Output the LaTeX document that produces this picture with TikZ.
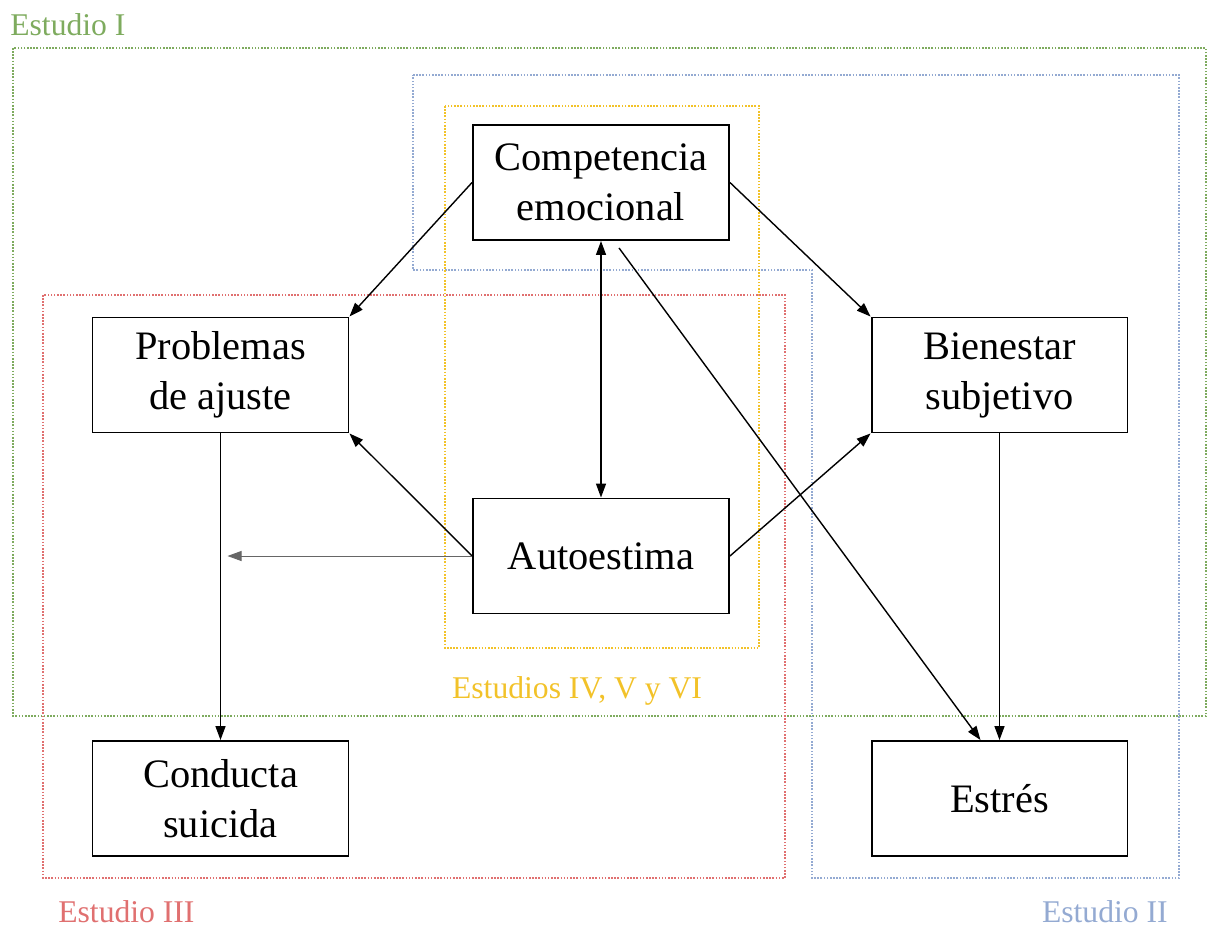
\documentclass[tikz,border=0pt]{standalone}
\usepackage{fontspec}
\setmainfont{Liberation Serif}
\usetikzlibrary{arrows.meta}
\definecolor{verde}{HTML}{7EAB5E}
\definecolor{azul}{HTML}{94AAD2}
\definecolor{amarillo}{HTML}{F2C229}
\definecolor{rojo}{HTML}{E07070}
\tikzstyle{caja}=[draw,line width=1.1pt,minimum width=5.12cm,minimum height=2.3cm,align=center,inner sep=2pt,font=\fontsize{23}{28.5}\selectfont]
\tikzstyle{marco}=[line width=1.4pt,dash pattern=on 0.9pt off 0.9pt]
\tikzstyle{etiqueta}=[inner sep=0pt,font=\fontsize{18}{20}\selectfont]
\tikzstyle{flecha}=[line width=0.8pt,-{Triangle[length=2.8mm,width=2mm]}]

\begin{document}
\begin{tikzpicture}[x=0.02cm,y=-0.02cm]
\useasboundingbox (0,0) rectangle (1209,927);
% marcos de los estudios
\draw[marco,verde] (13,48) rectangle (1206,716);
\draw[marco,azul] (413,75) -- (1179,75) -- (1179,878) -- (812,878) -- (812,270) -- (413,270) -- cycle;
\draw[marco,amarillo] (445,106) rectangle (759,648);
\draw[marco,rojo] (43,295) rectangle (785,878);
\node[etiqueta,verde,anchor=base west] (E1) at (10,35) {Estudio I};
\node[etiqueta,azul,anchor=base east] (E2) at (1168,922) {Estudio II};
\node[etiqueta,rojo,anchor=base west] (E3) at (58,922) {Estudio III};
\node[etiqueta,amarillo,anchor=base] (E4) at (577,698) {Estudios IV, V y VI};
% variables
\node[caja] (Comp) at (601,182.5) {Competencia\\emocional};
\node[caja] (Prob) at (220.5,375) {Problemas\\de ajuste};
\node[caja] (Bien) at (999.5,375) {Bienestar\\subjetivo};
\node[caja] (Auto) at (601,556) {Autoestima};
\node[caja] (Cond) at (220.5,798.5) {Conducta\\suicida};
\node[caja] (Estr) at (999.5,798.5) {Estrés};
% relaciones
\draw[flecha] (Comp.west) -- (Prob.north east);
\draw[flecha] (Comp.east) -- (Bien.north west);
\draw[flecha,{Triangle[length=2.8mm,width=2mm]}-{Triangle[length=2.8mm,width=2mm]}] (Comp.south) -- (Auto.north);
\draw[flecha] ([xshift=0.36cm,yshift=-0.14cm]Comp.south) -- ([xshift=-0.38cm]Estr.north);
\draw[flecha] (Auto.west) -- (Prob.south east);
\draw[flecha] (Auto.east) -- (Bien.south west);
\draw[flecha,line width=0.5pt,black!60] (Auto.west) -- ([xshift=0.14cm]Prob.south |- Auto.west);
\draw[flecha] (Prob.south) -- (Cond.north);
\draw[flecha] (Bien.south) -- (Estr.north);
\end{tikzpicture}
\end{document}
